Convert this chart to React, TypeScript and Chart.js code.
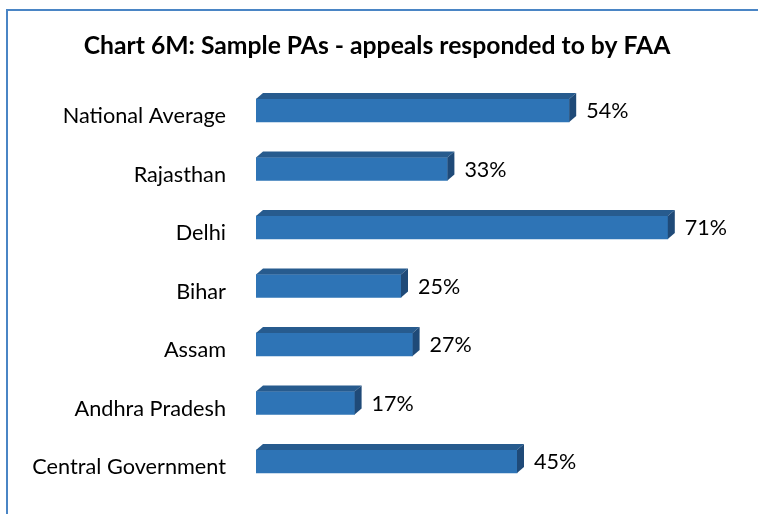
import React, { useEffect, useRef } from "react";
import { Chart, registerables } from "chart.js";

Chart.register(...registerables);

const categories = [
  "National Average",
  "Rajasthan",
  "Delhi",
  "Bihar",
  "Assam",
  "Andhra Pradesh",
  "Central Government",
];
const values = [54, 33, 71, 25, 27, 17, 45];
const titleText = "Chart 6M: Sample PAs - appeals responded to by FAA";
const xMax = 80;

const FONT = "Lato, 'Liberation Sans', sans-serif";

const bar3d = {
  id: "bar3d",
  afterDatasetsDraw(chart: any) {
    const ctx = chart.ctx;
    const meta = chart.getDatasetMeta(0);
    const dx = 7;
    const dy = 6;
    ctx.save();
    meta.data.forEach((el: any, i: number) => {
      const { x, y, base, height } = el.getProps(["x", "y", "base", "height"], true);
      const top = y - height / 2;
      const bot = y + height / 2;
      // top face
      ctx.fillStyle = "#275b8e";
      ctx.beginPath();
      ctx.moveTo(base, top);
      ctx.lineTo(base + dx, top - dy);
      ctx.lineTo(x + dx, top - dy);
      ctx.lineTo(x, top);
      ctx.closePath();
      ctx.fill();
      // side face
      ctx.fillStyle = "#1f4a78";
      ctx.beginPath();
      ctx.moveTo(x, top);
      ctx.lineTo(x + dx, top - dy);
      ctx.lineTo(x + dx, bot - dy);
      ctx.lineTo(x, bot);
      ctx.closePath();
      ctx.fill();
      // value label
      ctx.fillStyle = "#000";
      ctx.font = `21.5px ${FONT}`;
      ctx.textAlign = "left";
      ctx.textBaseline = "middle";
      ctx.fillText(values[i] + "%", x + 17, y + 1);
    });
    // title
    ctx.font = `bold 24.7px ${FONT}`;
    ctx.textAlign = "center";
    ctx.textBaseline = "alphabetic";
    ctx.fillStyle = "#000";
    ctx.fillText(titleText, 377, 54);
    ctx.restore();
  },
};

export default function App() {
  const ref = useRef<HTMLCanvasElement>(null);
  useEffect(() => {
    const chart = new Chart(ref.current!, {
      type: "bar",
      data: {
        labels: categories,
        datasets: [
          {
            data: values,
            backgroundColor: "#2e74b6",
            borderWidth: 0,
            barThickness: 23,
          },
        ],
      },
      options: {
        indexAxis: "y",
        responsive: false,
        animation: false,
        layout: { padding: { left: 0, right: 38, top: 81.25, bottom: 23.25 } },
        plugins: {
          legend: { display: false },
          tooltip: { enabled: false },
          title: { display: false },
        },
        scales: {
          x: { display: false, min: 0, max: xMax },
          y: {
            grid: { display: false, drawTicks: false },
            border: { display: false },
            ticks: {
              color: "#000",
              font: { family: FONT, size: 21.7 },
              padding: 30,
              labelOffset: 6,
            },
            afterFit: (s: any) => {
              s.width = 256;
              s.paddingTop = 0;
              s.paddingBottom = 0;
            },
          },
        },
      },
      plugins: [bar3d],
    });
    return () => chart.destroy();
  }, []);
  return (
    <>
      <div
        style={{
          position: "absolute",
          left: 6,
          top: 9,
          width: 752,
          height: 505,
          boxSizing: "border-box",
          borderLeft: "2px solid #4a85c5",
          borderTop: "2px solid #4a85c5",
        }}
      />
      <canvas
        ref={ref}
        width={758}
        height={514}
        style={{ position: "absolute", left: 0, top: 0 }}
      />
    </>
  );
}
